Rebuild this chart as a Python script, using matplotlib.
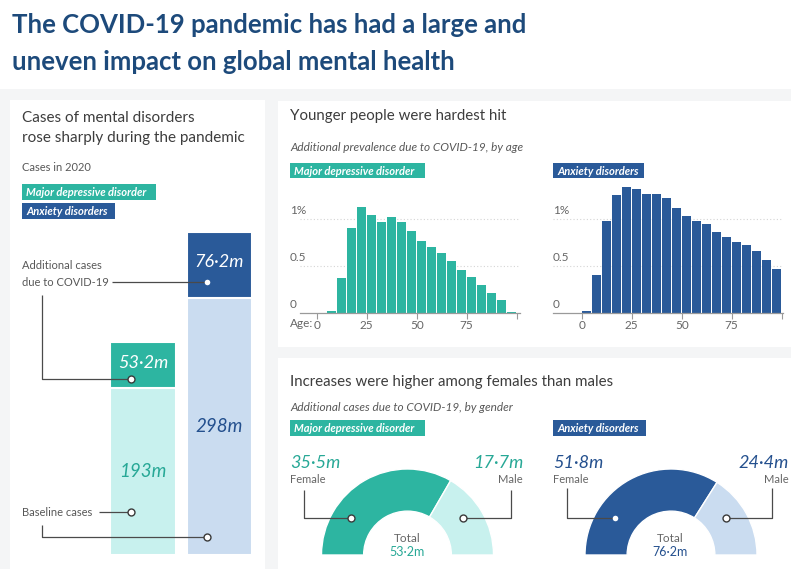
import matplotlib
matplotlib.use('Agg')
import matplotlib.pyplot as plt
import matplotlib.transforms as mtrans
from matplotlib.patches import Rectangle
import numpy as np

plt.rcParams['font.family'] = ['Lato', 'DejaVu Sans']

W, H = 791, 569

# ---------------- data ----------------
disorders = ['Major depressive disorder', 'Anxiety disorders']
baseline_cases = [193, 298]          # millions, 2020
additional_cases = [53.2, 76.2]      # millions, due to COVID-19
baseline_labels = ['193m', '298m']
additional_labels = ['53·2m', '76·2m']

age_starts = list(range(0, 100, 5))
mdd_prevalence = [0.0, 0.02, 0.375, 0.91, 1.125, 1.05, 0.975, 1.02, 0.975, 0.87,
                  0.77, 0.70, 0.64, 0.55, 0.46, 0.38, 0.30, 0.21, 0.14, 0.01]
anx_prevalence = [0.02, 0.40, 0.985, 1.26, 1.34, 1.32, 1.27, 1.27, 1.23, 1.12,
                  1.035, 0.985, 0.95, 0.86, 0.81, 0.76, 0.72, 0.66, 0.57, 0.47]
age_ticks = [0, 25, 50, 75]
prev_ticks = [0, 0.5, 1]
prev_tick_labels = ['0', '0.5', '1%']

genders = ['Female', 'Male']
mdd_gender = [35.5, 17.7]
anx_gender = [51.8, 24.4]
mdd_gender_labels = ['35·5m', '17·7m']
anx_gender_labels = ['51·8m', '24·4m']
total_labels = ['53·2m', '76·2m']

# ---------------- style ----------------
TEAL = '#2db5a1'
TEAL_LIGHT = '#c8f1ee'
NAVY = '#2a5a99'
BLUE_LIGHT = '#cadcf0'
TEAL_TXT = '#27a896'
NAVY_TXT = '#24508e'
TITLE_C = '#1d4a7b'
HEAD_C = '#3d3d3d'
SUB_C = '#585858'
GREY_TXT = '#666666'
LINE_C = '#4a4a4a'

fig = plt.figure(figsize=(W / 100, H / 100), dpi=100, facecolor='#f4f5f6')


def px_ax(x0, y0, x1, y1, **kw):
    return fig.add_axes([x0 / W, 1 - y1 / H, (x1 - x0) / W, (y1 - y0) / H], **kw)


# background cards
bg = px_ax(0, 0, W, H)
bg.set_xlim(0, W); bg.set_ylim(H, 0); bg.axis('off')
for (x0, y0, x1, y1) in [(0, 0, W, 89), (10, 100, 265, H + 5),
                         (278, 101, W + 5, 347), (278, 358, W + 5, H + 5)]:
    bg.add_patch(Rectangle((x0, y0), x1 - x0, y1 - y0, facecolor='white', edgecolor='none'))

# ---------------- left stacked bars ----------------
axL = px_ax(100, 225, 265, 555)
xpos = np.arange(len(disorders))
bw = 0.86
axL.bar(xpos, baseline_cases, bw, color=[TEAL_LIGHT, BLUE_LIGHT], edgecolor='white', linewidth=1.5)
axL.bar(xpos, additional_cases, bw, bottom=baseline_cases, color=[TEAL, NAVY],
        edgecolor='white', linewidth=1.5)
axL.set_xlim(-0.562, 1.595)
axL.set_ylim(0, 382)
axL.axis('off')
for i in xpos:
    axL.text(i, baseline_cases[i] + additional_cases[i] / 2 + 3, additional_labels[i],
             ha='center', va='center', color='white', fontsize=13, style='italic')
    axL.text(i, baseline_cases[i] / 2, baseline_labels[i], ha='center', va='center',
             color=[TEAL_TXT, NAVY_TXT][i], fontsize=13.5, style='italic')


# ---------------- histograms ----------------
def hist(box, values, color, label_x):
    ax = px_ax(*box)
    centers = np.array(age_starts) + 2.5
    ax.bar(centers, values, width=4.3, color=color, zorder=2)
    ax.set_ylim(0, 1.418)
    for s in ['top', 'right', 'left']:
        ax.spines[s].set_visible(False)
    ax.spines['bottom'].set_color('#9a9a9a')
    ax.spines['bottom'].set_linewidth(0.9)
    ax.spines['bottom'].set_zorder(3)
    ax.set_xticks(age_ticks + [100], [str(a) for a in age_ticks] + [''])
    ax.tick_params(axis='x', length=4, color='#9a9a9a', labelsize=8.5,
                   labelcolor=GREY_TXT, pad=1)
    ax.set_yticks([0.5, 1])
    ax.tick_params(axis='y', length=0, labelleft=False)
    ax.grid(axis='y', linestyle=(0, (1, 2)), color='#d5d5d5', linewidth=0.8, zorder=0)
    ax.patch.set_alpha(0)
    tr = mtrans.blended_transform_factory(fig.transFigure, ax.transData)
    for v, lab in zip(prev_ticks, prev_tick_labels):
        ax.text(label_x / W, v + 0.03, lab, transform=tr, ha='left', va='bottom',
                fontsize=8.5, color=GREY_TXT)
    return ax


axM = hist((300, 180, 520, 313), mdd_prevalence, TEAL, 290)
axM.set_xlim(-8.35, 101.65)
axA = hist((553, 180, 783, 313), anx_prevalence, NAVY, 553)
axA.set_xlim(-14.35, 100.65)


# ---------------- donuts ----------------
def donut(cx, cy, vals, colors):
    R = 86
    pad = 1.04
    ax = px_ax(cx - R * pad, cy - R * pad, cx + R * pad, cy + R * pad)
    wedges, _ = ax.pie(list(vals) + [sum(vals)], colors=list(colors) + ['white'],
                       startangle=180, counterclock=False, radius=1,
                       wedgeprops=dict(width=0.49, edgecolor='white', linewidth=1))
    wedges[-1].set_visible(False)
    ax.set_xlim(-pad, pad); ax.set_ylim(-pad, pad)
    ax.set_aspect('equal')
    ax.axis('off')
    return ax


donut(407.5, 555, mdd_gender, [TEAL, TEAL_LIGHT])
donut(671, 555, anx_gender, [NAVY, BLUE_LIGHT])

# ---------------- overlay: text & callouts ----------------
ov = px_ax(0, 0, W, H)
ov.set_xlim(0, W); ov.set_ylim(H, 0); ov.axis('off')
ov.set_zorder(10)


def T(x, y, s, **kw):
    ov.text(x, y, s, **kw)


def badge(x0, y0, x1, y1, text, color):
    ov.add_patch(Rectangle((x0, y0), x1 - x0, y1 - y0, facecolor=color, edgecolor='none'))
    T(x0 + 4, (y0 + y1) / 2 + 0.5, text, color='white', fontsize=8, fontweight='bold',
      style='italic', ha='left', va='center')


def open_dot(x, y):
    ov.plot([x], [y], 'o', ms=5, mfc='white', mec='#3a3a3a', mew=1.0, zorder=5)


def solid_dot(x, y):
    ov.plot([x], [y], 'o', ms=4, mfc='white', mec='white', mew=0, zorder=5)


def path(xs, ys):
    ov.plot(xs, ys, color=LINE_C, lw=0.9, solid_capstyle='butt', zorder=4)


# Title
T(12, 33, 'The COVID-19 pandemic has had a large and', fontsize=18.5, fontweight='bold',
  color=TITLE_C, va='baseline')
T(12, 70, 'uneven impact on global mental health', fontsize=18.5, fontweight='bold',
  color=TITLE_C, va='baseline')

# Left panel
T(22, 118, 'Cases of mental disorders', fontsize=11, color=HEAD_C, va='center')
T(22, 138, 'rose sharply during the pandemic', fontsize=11, color=HEAD_C, va='center')
T(22, 167, 'Cases in 2020', fontsize=8, color=SUB_C, va='center')
badge(22, 184, 156, 200, disorders[0], TEAL)
badge(22, 203, 115, 219, disorders[1], NAVY)
T(22, 265, 'Additional cases', fontsize=8, color=SUB_C, va='center')
T(22, 282, 'due to COVID-19', fontsize=8, color=SUB_C, va='center')
path([112, 205], [282, 282])
solid_dot(207, 282)
path([41.5, 41.5, 129], [295, 379, 379])
open_dot(131, 379)
T(22, 512, 'Baseline cases', fontsize=8, color=SUB_C, va='center')
path([99, 129], [512, 512])
open_dot(131, 512)
path([41.5, 41.5, 205], [525, 537, 537])
open_dot(207, 537)

# Top right panel
T(290, 116, 'Younger people were hardest hit', fontsize=10.8, color=HEAD_C, va='center')
T(290, 147, 'Additional prevalence due to COVID-19, by age', fontsize=8.5, style='italic',
  color=SUB_C, va='center')
badge(290, 163, 425, 178, disorders[0], TEAL)
badge(553, 163, 644, 178, disorders[1], NAVY)
T(290, 323, 'Age:', fontsize=8.5, color=GREY_TXT, va='center')

# Bottom right panel
T(290, 382, 'Increases were higher among females than males', fontsize=10.8, color=HEAD_C,
  va='center')
T(290, 407, 'Additional cases due to COVID-19, by gender', fontsize=8.5, style='italic',
  color=SUB_C, va='center')
badge(290, 420, 425, 436, disorders[0], TEAL)
badge(553, 420, 646, 436, disorders[1], NAVY)

# MDD donut annotations
T(290, 463, mdd_gender_labels[0], fontsize=13, style='italic', color=TEAL_TXT, va='center')
T(290, 479, genders[0], fontsize=8, color=GREY_TXT, va='center')
T(523, 463, mdd_gender_labels[1], fontsize=13, style='italic', color=TEAL_TXT, va='center',
  ha='right')
T(523, 479, genders[1], fontsize=8, color=GREY_TXT, va='center', ha='right')
path([304, 304, 349], [490, 518, 518])
open_dot(351, 518)
path([465, 511, 511], [518, 518, 490])
open_dot(463, 518)
T(407.5, 539, 'Total', fontsize=8.5, color=GREY_TXT, ha='center', va='center')
T(407.5, 552, total_labels[0], fontsize=9, color=TEAL_TXT, ha='center', va='center')

# Anxiety donut annotations
T(553, 463, anx_gender_labels[0], fontsize=13, style='italic', color=NAVY_TXT, va='center')
T(553, 479, genders[0], fontsize=8, color=GREY_TXT, va='center')
T(789, 463, anx_gender_labels[1], fontsize=13, style='italic', color=NAVY_TXT, va='center',
  ha='right')
T(789, 479, genders[1], fontsize=8, color=GREY_TXT, va='center', ha='right')
path([567, 567, 613], [488, 518, 518])
solid_dot(615, 518)
path([728, 772, 772], [518, 518, 488])
open_dot(726, 518)
T(670, 538, 'Total', fontsize=8.5, color=GREY_TXT, ha='center', va='center')
T(670, 552, total_labels[1], fontsize=9, color=NAVY_TXT, ha='center', va='center')

fig.savefig('out.png', dpi=100, facecolor=fig.get_facecolor())
